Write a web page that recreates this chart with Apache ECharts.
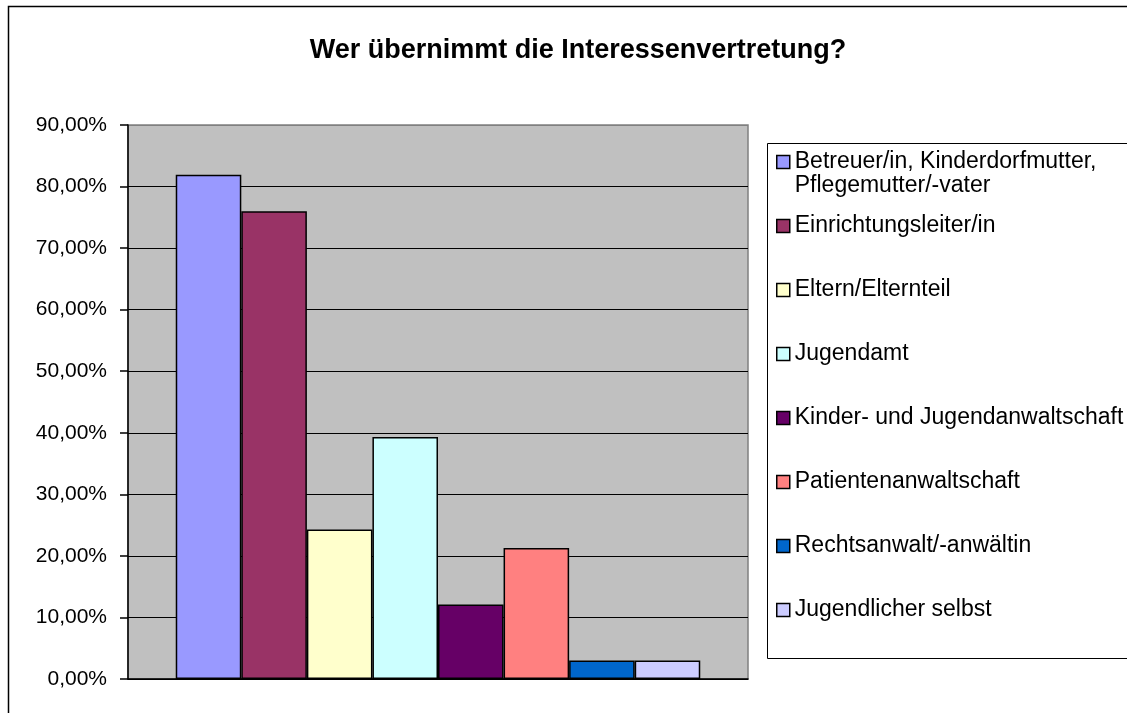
<!DOCTYPE html>
<html>
<head>
<meta charset="utf-8">
<script src="https://cdn.jsdelivr.net/npm/echarts@6/dist/echarts.min.js"></script>
<style>
html,body{margin:0;padding:0;background:#fff;}
#chart{width:1127px;height:713px;}
</style>
</head>
<body>
<div id="chart"></div>
<script>
const titleText = 'Wer übernimmt die Interessenvertretung?';
const seriesNames = [
  'Betreuer/in, Kinderdorfmutter,\nPflegemutter/-vater',
  'Einrichtungsleiter/in',
  'Eltern/Elternteil',
  'Jugendamt',
  'Kinder- und Jugendanwaltschaft',
  'Patientenanwaltschaft',
  'Rechtsanwalt/-anwältin',
  'Jugendlicher selbst'
];
const seriesValues = [81.9, 76.0, 24.3, 39.3, 12.1, 21.3, 3.0, 3.0];
const seriesColors = ['#9999FF', '#993366', '#FFFFCC', '#CCFFFF', '#660066', '#FF8080', '#0066CC', '#CCCCFF'];
const categories = [''];
const yTicks = { min: 0, max: 90, interval: 10 };

const FONT = '"Liberation Sans", Arial, sans-serif';
const legendCenters = [162, 226, 290, 354, 418, 482, 546, 610];
const LH = 24;

const chart = echarts.init(document.getElementById('chart'), null, { renderer: 'canvas' });

const series = seriesNames.map((name, i) => ({
  name: name,
  type: 'bar',
  data: [seriesValues[i]],
  barGap: '0%',
  barCategoryGap: '15.4%',
  itemStyle: { color: seriesColors[i], borderColor: '#000', borderWidth: 1.5 },
  emphasis: { disabled: true },
  animation: false
}));

const legends = seriesNames.map((name, i) => {
  const twoLine = name.indexOf('\n') >= 0;
  return {
    show: true,
    orient: 'vertical',
    left: 776,
    top: legendCenters[i] - (twoLine ? LH * 1.5 : LH / 2),
    data: [name],
    itemWidth: 13,
    itemHeight: 13,
    itemGap: 0,
    padding: 0,
    icon: 'rect',
    selectedMode: false,
    itemStyle: { borderColor: '#000', borderWidth: 1.5 },
    textStyle: { fontFamily: FONT, fontSize: 23, color: '#000', lineHeight: LH },
    formatter: twoLine ? function (n) { return '\n' + n; } : undefined
  };
});

const splitColors = [];
for (let v = yTicks.min; v <= yTicks.max; v += yTicks.interval) {
  splitColors.push(v === yTicks.max ? '#808080' : '#000');
}

chart.setOption({
  backgroundColor: '#ffffff',
  animation: false,
  title: {
    text: titleText,
    left: 573,
    top: 46,
    textAlign: 'center',
    textVerticalAlign: 'middle',
    textStyle: { fontFamily: FONT, fontSize: 27, fontWeight: 'bold', color: '#000' }
  },
  legend: legends,
  graphic: [
    { type: 'rect', shape: { x: 8.5, y: 6.5, width: 1140, height: 720 }, style: { fill: 'none', stroke: '#000', lineWidth: 1.5 }, z: 100, silent: true },
    { type: 'rect', shape: { x: 767.5, y: 143.5, width: 400, height: 515 }, style: { fill: '#fff', stroke: '#000', lineWidth: 1 }, z: -1, silent: true }
  ],
  grid: {
    left: 128, top: 125, width: 620, height: 554,
    show: true, backgroundColor: '#C0C0C0', borderColor: '#808080', borderWidth: 1.5,
    containLabel: false
  },
  xAxis: {
    type: 'category',
    data: categories,
    axisLine: { show: true, lineStyle: { color: '#000', width: 1.5 } },
    axisTick: { show: false },
    axisLabel: { show: false },
    splitLine: { show: false }
  },
  yAxis: {
    type: 'value',
    min: yTicks.min, max: yTicks.max, interval: yTicks.interval,
    axisLine: { show: true, lineStyle: { color: '#000', width: 1.5 } },
    axisTick: { show: true, length: 8, inside: false, lineStyle: { color: '#000', width: 1.5 } },
    axisLabel: {
      margin: 21,
      fontFamily: FONT, fontSize: 21, color: '#000',
      formatter: function (v) { return v.toFixed(2).replace('.', ',') + '%'; }
    },
    splitLine: { show: true, lineStyle: { color: splitColors, width: 1.2 } }
  },
  series: series
});
</script>
</body>
</html>
